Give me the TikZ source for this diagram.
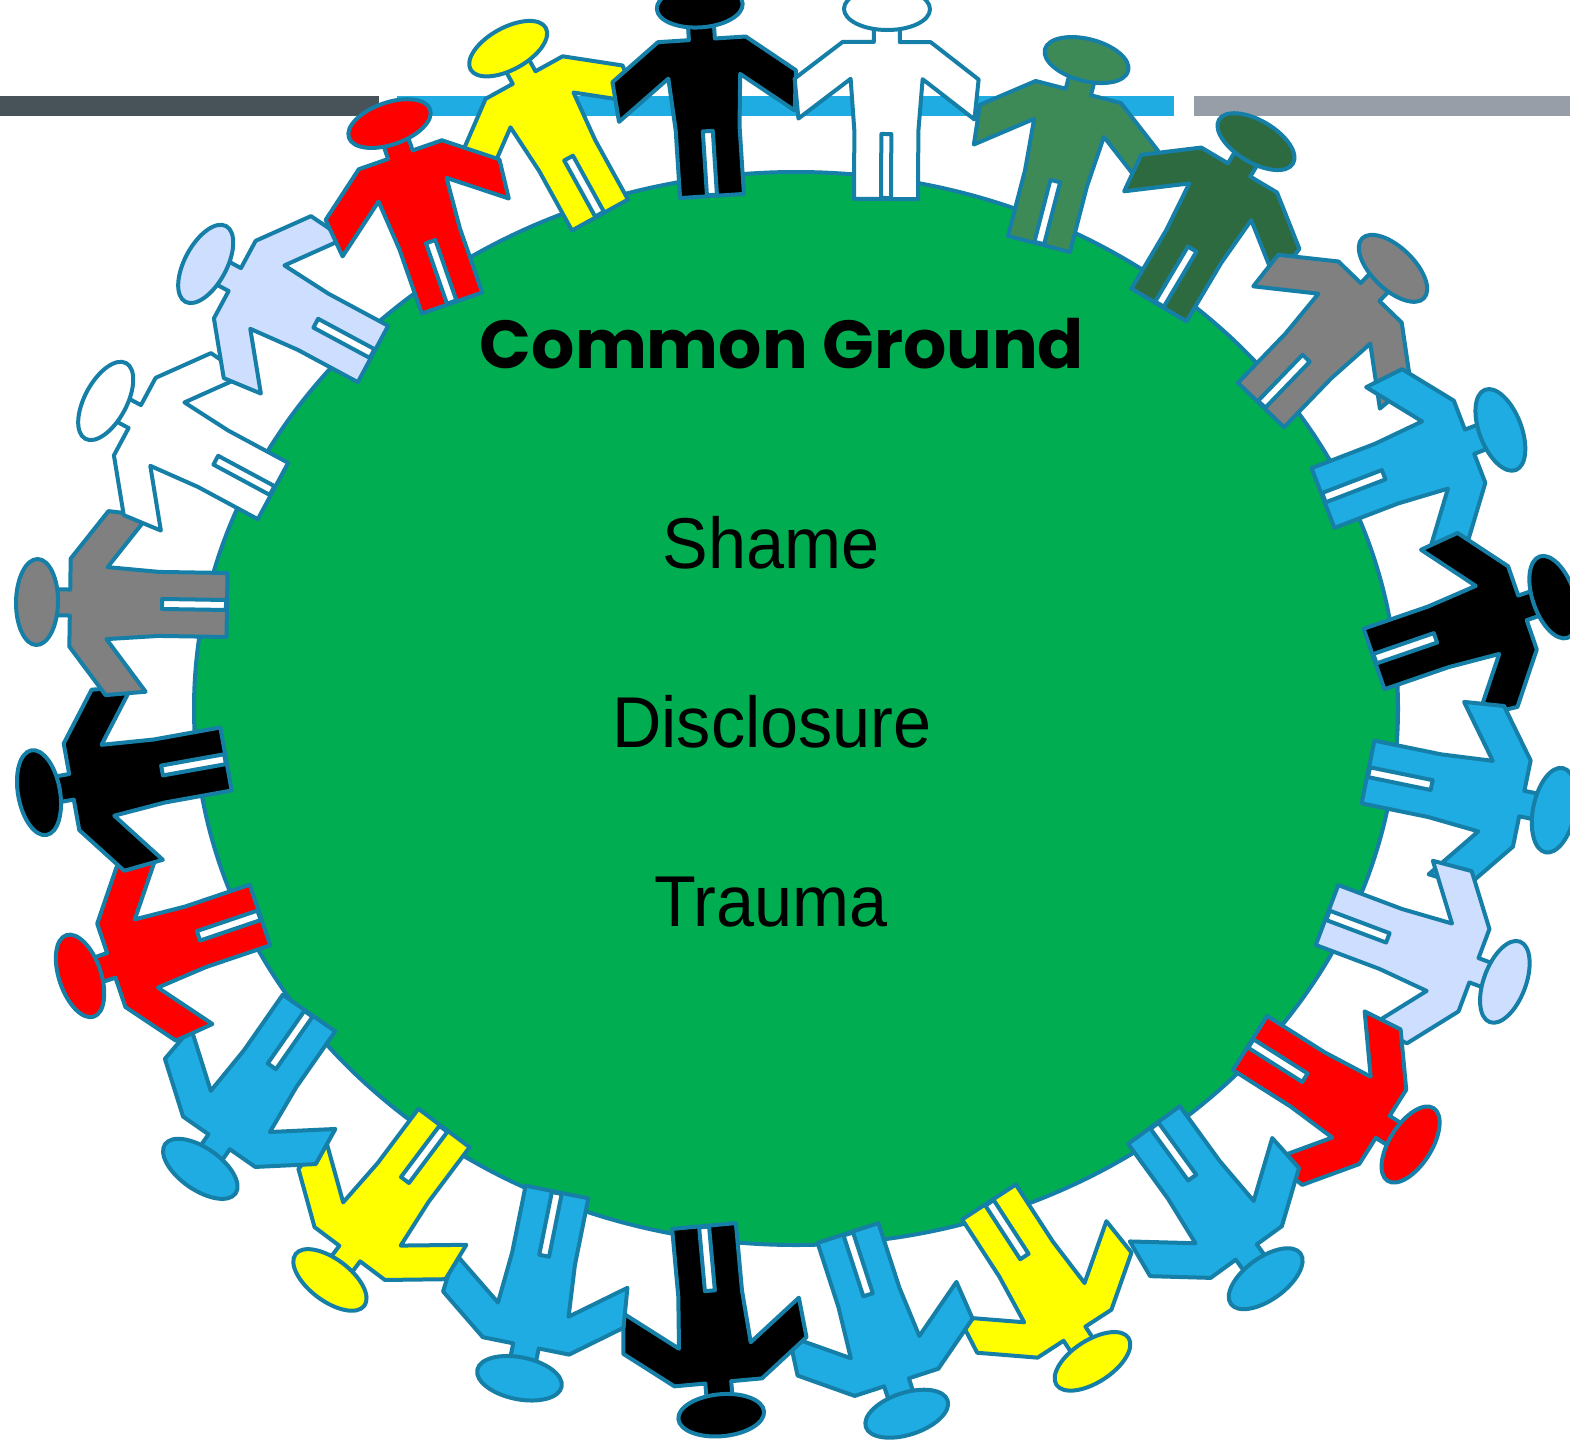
\documentclass[tikz,border=0pt]{standalone}
\usepackage{graphicx}
\usepackage{fontspec}
\setmainfont{Liberation Sans}
\newfontfamily\titlefont{Poppins}
\definecolor{outl}{RGB}{22,127,167}
\definecolor{ggreen}{RGB}{0,173,80}
\definecolor{pblue}{RGB}{30,172,226}
\definecolor{plight}{RGB}{206,222,255}
\definecolor{pgray}{RGB}{128,128,128}
\definecolor{pmgreen}{RGB}{62,138,86}
\definecolor{pdgreen}{RGB}{46,106,64}
\definecolor{pyellow}{RGB}{255,255,0}
\definecolor{pred}{RGB}{255,0,0}
\definecolor{pblack}{RGB}{0,0,0}
\definecolor{pwhite}{RGB}{255,255,255}
\definecolor{bardark}{RGB}{71,83,89}
\definecolor{barblue}{RGB}{30,172,226}
\definecolor{bargray}{RGB}{151,158,167}
\begin{document}
\begin{tikzpicture}[x=0.5pt,y=0.5pt,
  figline/.style={draw=outl,line width=2pt,line join=round},
  pics/person/.style={code={
    \draw[figline,fill=#1] (-32,0) -- (32,0) -- (32,68) -- (36,120) -- (88,80) -- (92,120)
      -- (44,157) -- (13,157) -- (13,171) -- (-13,171) -- (-13,157) -- (-44,157)
      -- (-92,120) -- (-88,80) -- (-36,120) -- (-32,68) -- cycle;
    \draw[figline,fill=#1] (0,190) ellipse [x radius=43, y radius=21];
    \draw[figline,fill=white] (-5,1) rectangle (5,65);
  }},
  txt/.style={anchor=base,font=\fontsize{36}{40}\selectfont}]
\useasboundingbox (0,0) rectangle (1570,-1440);
\fill[white] (0,0) rectangle (1570,-1440);
% top bars
\fill[bardark] (0,-96) rectangle (379,-116);
\fill[barblue] (397,-96) rectangle (1174,-116);
\fill[bargray] (1194,-96) rectangle (1570,-116);
% ground
\draw[figline,fill=ggreen] (796,-708.5) ellipse [x radius=602, y radius=536.5];
% people
\foreach \X/\Y/\a/\c in {
  600/215/118.9/pyellow,
  712/196/93.7/pblack,
  886/199/89.7/pwhite,
  1039/244/75.5/pmgreen,
  1159/305/59.3/pdgreen,
  1261/405/46/pgray,
  1323/498/21/pblue,
  1374/659/19/pblack,
  1368/772/-11.6/pblue,
  1327/915/-20.6/plight,
  1250/1043/-32.3/pred,
  1154/1125/-54/pblue,
  989/1202/-57/pyellow,
  848/1233/-72/pblue,
  704/1226/-84.8/pblack,
  557/1192/-101.4/pblue,
  444/1128/-126.9/pyellow,
  309/1013/-124.9/pblue,
  260/915/-161.3/pred,
  226/759/-169.8/pblack,
  227/605/179.1/pgray,
  273/491/151.7/pwhite,
  373/354/151.7/plight,
  452/303/109.2/pred}
  \pic[rotate=\a-90] at (\X,-\Y) {person=\c};
% texts
\node[anchor=base,inner sep=0pt] (title) at (782,-368) {\resizebox{302pt}{!}{\titlefont\bfseries Common Ground}};
\node[txt] (shame) at (771,-568) {\scalebox{0.95}[1]{Shame}};
\node[txt] (disclosure) at (772,-747) {\scalebox{0.95}[1]{Disclosure}};
\node[txt] (trauma) at (771,-926) {\scalebox{0.95}[1]{Trauma}};
\end{tikzpicture}
\end{document}
